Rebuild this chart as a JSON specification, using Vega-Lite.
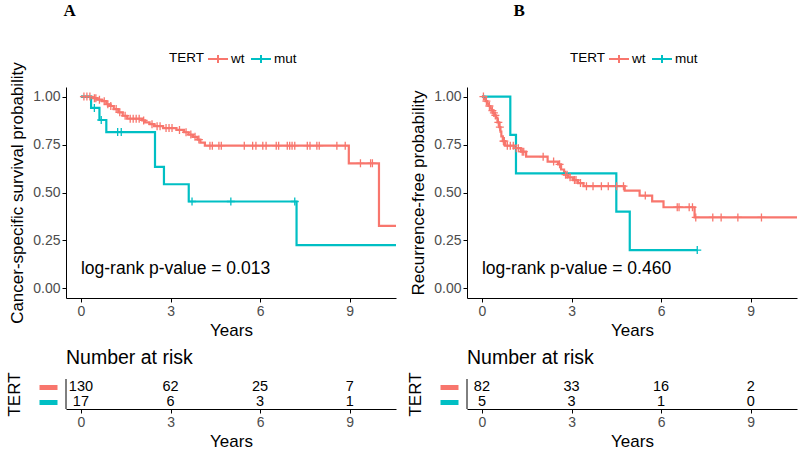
{
  "$schema": "https://vega.github.io/schema/vega-lite/v6.json",
  "background": "white",
  "padding": {"left": 5, "top": 2, "right": 3, "bottom": 0},
  "config": {
    "view": {"stroke": null},
    "font": "Liberation Sans",
    "axis": {"grid": false, "domainColor": "#000", "tickColor": "#000", "labelColor": "#4D4D4D", "labelFontSize": 14, "titleFontSize": 17, "titleFontWeight": "normal", "titleColor": "#000", "tickSize": 4, "labelPadding": 2, "domainWidth": 1, "titleFont": "Liberation Sans", "labelFont": "Liberation Sans"}
  },
  "datasets": {
    "kmA": [
      {"g": "wt", "t": 0, "s": 1.0}, {"g": "wt", "t": 0.35, "s": 0.992}, {"g": "wt", "t": 0.55, "s": 0.984}, {"g": "wt", "t": 0.7, "s": 0.976}, {"g": "wt", "t": 0.85, "s": 0.96}, {"g": "wt", "t": 0.95, "s": 0.951}, {"g": "wt", "t": 1.1, "s": 0.935}, {"g": "wt", "t": 1.25, "s": 0.918}, {"g": "wt", "t": 1.4, "s": 0.9}, {"g": "wt", "t": 1.55, "s": 0.885}, {"g": "wt", "t": 2.05, "s": 0.876}, {"g": "wt", "t": 2.15, "s": 0.866}, {"g": "wt", "t": 2.3, "s": 0.856}, {"g": "wt", "t": 2.45, "s": 0.846}, {"g": "wt", "t": 2.75, "s": 0.836}, {"g": "wt", "t": 3.2, "s": 0.826}, {"g": "wt", "t": 3.45, "s": 0.814}, {"g": "wt", "t": 3.6, "s": 0.802}, {"g": "wt", "t": 3.75, "s": 0.79}, {"g": "wt", "t": 3.9, "s": 0.776}, {"g": "wt", "t": 4.0, "s": 0.76}, {"g": "wt", "t": 4.15, "s": 0.744}, {"g": "wt", "t": 8.97, "s": 0.652}, {"g": "wt", "t": 9.98, "s": 0.326}, {"g": "wt", "t": 10.55, "s": 0.326},
      {"g": "mut", "t": 0, "s": 1.0}, {"g": "mut", "t": 0.34, "s": 0.941}, {"g": "mut", "t": 0.62, "s": 0.878}, {"g": "mut", "t": 0.85, "s": 0.815}, {"g": "mut", "t": 2.48, "s": 0.634}, {"g": "mut", "t": 2.78, "s": 0.543}, {"g": "mut", "t": 3.61, "s": 0.453}, {"g": "mut", "t": 7.22, "s": 0.226}, {"g": "mut", "t": 10.55, "s": 0.226}
    ],
    "censA": [
      {"g": "wt", "t": 0.1, "s": 1.0}, {"g": "wt", "t": 0.2, "s": 1.0}, {"g": "wt", "t": 0.3, "s": 1.0}, {"g": "wt", "t": 0.45, "s": 0.992}, {"g": "wt", "t": 0.5, "s": 0.992}, {"g": "wt", "t": 0.62, "s": 0.984}, {"g": "wt", "t": 0.78, "s": 0.976}, {"g": "wt", "t": 0.9, "s": 0.96}, {"g": "wt", "t": 1.0, "s": 0.951}, {"g": "wt", "t": 1.18, "s": 0.935}, {"g": "wt", "t": 1.3, "s": 0.918}, {"g": "wt", "t": 1.48, "s": 0.9}, {"g": "wt", "t": 1.65, "s": 0.885}, {"g": "wt", "t": 1.75, "s": 0.885}, {"g": "wt", "t": 1.85, "s": 0.885}, {"g": "wt", "t": 1.95, "s": 0.885}, {"g": "wt", "t": 2.1, "s": 0.876}, {"g": "wt", "t": 2.38, "s": 0.856}, {"g": "wt", "t": 2.55, "s": 0.846}, {"g": "wt", "t": 2.65, "s": 0.846}, {"g": "wt", "t": 2.85, "s": 0.836}, {"g": "wt", "t": 2.95, "s": 0.836}, {"g": "wt", "t": 3.05, "s": 0.836}, {"g": "wt", "t": 3.3, "s": 0.826}, {"g": "wt", "t": 3.52, "s": 0.814}, {"g": "wt", "t": 3.68, "s": 0.802}, {"g": "wt", "t": 3.82, "s": 0.79}, {"g": "wt", "t": 3.95, "s": 0.776},
      {"g": "wt", "t": 4.32, "s": 0.744}, {"g": "wt", "t": 4.4, "s": 0.744}, {"g": "wt", "t": 4.62, "s": 0.744}, {"g": "wt", "t": 4.7, "s": 0.744}, {"g": "wt", "t": 5.47, "s": 0.744}, {"g": "wt", "t": 5.75, "s": 0.744}, {"g": "wt", "t": 5.86, "s": 0.744}, {"g": "wt", "t": 6.09, "s": 0.744}, {"g": "wt", "t": 6.2, "s": 0.744}, {"g": "wt", "t": 6.54, "s": 0.744}, {"g": "wt", "t": 6.62, "s": 0.744}, {"g": "wt", "t": 6.91, "s": 0.744}, {"g": "wt", "t": 6.99, "s": 0.744}, {"g": "wt", "t": 7.07, "s": 0.744}, {"g": "wt", "t": 7.16, "s": 0.744}, {"g": "wt", "t": 7.58, "s": 0.744}, {"g": "wt", "t": 7.67, "s": 0.744}, {"g": "wt", "t": 7.9, "s": 0.744}, {"g": "wt", "t": 7.98, "s": 0.744}, {"g": "wt", "t": 8.57, "s": 0.744}, {"g": "wt", "t": 8.85, "s": 0.744}, {"g": "wt", "t": 9.36, "s": 0.652}, {"g": "wt", "t": 9.7, "s": 0.652}, {"g": "wt", "t": 9.76, "s": 0.652},
      {"g": "mut", "t": 0.45, "s": 0.941}, {"g": "mut", "t": 0.68, "s": 0.878}, {"g": "mut", "t": 1.23, "s": 0.815}, {"g": "mut", "t": 1.35, "s": 0.815}, {"g": "mut", "t": 3.72, "s": 0.453}, {"g": "mut", "t": 5.02, "s": 0.453}, {"g": "mut", "t": 7.16, "s": 0.453}
    ],
    "kmB": [
      {"g": "wt", "t": 0, "s": 1.0}, {"g": "wt", "t": 0.08, "s": 0.988}, {"g": "wt", "t": 0.12, "s": 0.976}, {"g": "wt", "t": 0.18, "s": 0.963}, {"g": "wt", "t": 0.22, "s": 0.951}, {"g": "wt", "t": 0.28, "s": 0.939}, {"g": "wt", "t": 0.32, "s": 0.927}, {"g": "wt", "t": 0.37, "s": 0.915}, {"g": "wt", "t": 0.42, "s": 0.902}, {"g": "wt", "t": 0.47, "s": 0.89}, {"g": "wt", "t": 0.52, "s": 0.866}, {"g": "wt", "t": 0.58, "s": 0.841}, {"g": "wt", "t": 0.62, "s": 0.817}, {"g": "wt", "t": 0.65, "s": 0.793}, {"g": "wt", "t": 0.7, "s": 0.768}, {"g": "wt", "t": 0.78, "s": 0.744}, {"g": "wt", "t": 1.12, "s": 0.731}, {"g": "wt", "t": 1.3, "s": 0.713}, {"g": "wt", "t": 1.48, "s": 0.687}, {"g": "wt", "t": 2.2, "s": 0.661}, {"g": "wt", "t": 2.55, "s": 0.647}, {"g": "wt", "t": 2.65, "s": 0.62}, {"g": "wt", "t": 2.75, "s": 0.593}, {"g": "wt", "t": 2.88, "s": 0.579}, {"g": "wt", "t": 3.05, "s": 0.565}, {"g": "wt", "t": 3.22, "s": 0.549}, {"g": "wt", "t": 3.4, "s": 0.533}, {"g": "wt", "t": 4.78, "s": 0.51}, {"g": "wt", "t": 5.28, "s": 0.484}, {"g": "wt", "t": 5.7, "s": 0.454}, {"g": "wt", "t": 6.08, "s": 0.423}, {"g": "wt", "t": 7.12, "s": 0.37}, {"g": "wt", "t": 10.55, "s": 0.37},
      {"g": "mut", "t": 0, "s": 1.0}, {"g": "mut", "t": 0.95, "s": 0.8}, {"g": "mut", "t": 1.14, "s": 0.6}, {"g": "mut", "t": 4.5, "s": 0.4}, {"g": "mut", "t": 4.95, "s": 0.2}, {"g": "mut", "t": 7.21, "s": 0.2}
    ],
    "censB": [
      {"g": "wt", "t": 0.05, "s": 1.0}, {"g": "wt", "t": 0.15, "s": 0.976}, {"g": "wt", "t": 0.25, "s": 0.951}, {"g": "wt", "t": 0.35, "s": 0.927}, {"g": "wt", "t": 0.4, "s": 0.915}, {"g": "wt", "t": 0.45, "s": 0.902}, {"g": "wt", "t": 0.55, "s": 0.866}, {"g": "wt", "t": 0.6, "s": 0.841}, {"g": "wt", "t": 0.72, "s": 0.768}, {"g": "wt", "t": 0.75, "s": 0.768}, {"g": "wt", "t": 0.85, "s": 0.744}, {"g": "wt", "t": 0.95, "s": 0.744}, {"g": "wt", "t": 1.05, "s": 0.744}, {"g": "wt", "t": 1.15, "s": 0.731}, {"g": "wt", "t": 1.22, "s": 0.731}, {"g": "wt", "t": 1.35, "s": 0.713}, {"g": "wt", "t": 1.4, "s": 0.713}, {"g": "wt", "t": 2.05, "s": 0.687}, {"g": "wt", "t": 2.4, "s": 0.661}, {"g": "wt", "t": 2.6, "s": 0.647}, {"g": "wt", "t": 2.8, "s": 0.593}, {"g": "wt", "t": 2.85, "s": 0.593}, {"g": "wt", "t": 2.95, "s": 0.579}, {"g": "wt", "t": 3.1, "s": 0.565}, {"g": "wt", "t": 3.15, "s": 0.565}, {"g": "wt", "t": 3.3, "s": 0.549},
      {"g": "wt", "t": 3.5, "s": 0.533}, {"g": "wt", "t": 3.72, "s": 0.533}, {"g": "wt", "t": 4.0, "s": 0.533}, {"g": "wt", "t": 4.23, "s": 0.533}, {"g": "wt", "t": 4.51, "s": 0.533}, {"g": "wt", "t": 4.74, "s": 0.533}, {"g": "wt", "t": 5.47, "s": 0.484}, {"g": "wt", "t": 6.54, "s": 0.423}, {"g": "wt", "t": 6.6, "s": 0.423}, {"g": "wt", "t": 6.94, "s": 0.423}, {"g": "wt", "t": 7.05, "s": 0.423}, {"g": "wt", "t": 7.16, "s": 0.37}, {"g": "wt", "t": 7.73, "s": 0.37}, {"g": "wt", "t": 8.01, "s": 0.37}, {"g": "wt", "t": 8.57, "s": 0.37}, {"g": "wt", "t": 9.36, "s": 0.37},
      {"g": "mut", "t": 7.21, "s": 0.2}
    ],
    "riskA": [
      {"g": "wt", "t": 0, "n": 130}, {"g": "wt", "t": 3, "n": 62}, {"g": "wt", "t": 6, "n": 25}, {"g": "wt", "t": 9, "n": 7},
      {"g": "mut", "t": 0, "n": 17}, {"g": "mut", "t": 3, "n": 6}, {"g": "mut", "t": 6, "n": 3}, {"g": "mut", "t": 9, "n": 1}
    ],
    "riskB": [
      {"g": "wt", "t": 0, "n": 82}, {"g": "wt", "t": 3, "n": 33}, {"g": "wt", "t": 6, "n": 16}, {"g": "wt", "t": 9, "n": 2},
      {"g": "mut", "t": 0, "n": 5}, {"g": "mut", "t": 3, "n": 3}, {"g": "mut", "t": 6, "n": 1}, {"g": "mut", "t": 9, "n": 0}
    ]
  },
  "resolve": {"legend": {"color": "independent"}},
  "spacing": 5,
  "hconcat": [
    {
      "title": {"text": "A", "anchor": "start", "font": "Liberation Serif", "fontSize": 17, "fontWeight": "bold", "color": "#000", "dx": 58, "offset": 28},
      "spacing": 10,
      "resolve": {"legend": {"color": "independent"}},
      "vconcat": [
        {
          "width": 330, "height": 211,
          "layer": [
            {
              "data": {"name": "kmA"},
              "mark": {"type": "line", "interpolate": "step-after", "strokeWidth": 2.2},
              "encoding": {
                "x": {"field": "t", "type": "quantitative", "scale": {"domain": [-0.5, 10.55], "nice": false, "zero": false}, "axis": {"values": [0, 3, 6, 9], "title": "Years"}},
                "y": {"field": "s", "type": "quantitative", "scale": {"domain": [-0.05, 1.05], "nice": false, "zero": false}, "axis": {"values": [0, 0.25, 0.5, 0.75, 1], "format": ".2f", "title": "Cancer-specific survival probability", "titlePadding": 6}},
                "color": {"field": "g", "type": "nominal", "scale": {"domain": ["wt", "mut"], "range": ["#F8766D", "#00BFC4"]},
                  "legend": {"title": "TERT", "orient": "none", "legendX": 103, "legendY": -39, "direction": "horizontal", "titleOrient": "left", "symbolType": "M-1,0L1,0M0,-0.4L0,0.4", "symbolSize": 400, "symbolStrokeWidth": 2, "labelFontSize": 13.5, "titleFontSize": 13.5, "titleFontWeight": "normal", "titleColor": "#000", "labelColor": "#000", "columnPadding": 2, "labelOffset": 2, "titlePadding": 2, "titleFont": "Liberation Sans", "labelFont": "Liberation Sans"}}
              }
            },
            {
              "data": {"name": "censA"},
              "mark": {"type": "point", "shape": "M-1,0L1,0M0,-1L0,1", "size": 64, "filled": false, "strokeWidth": 1.3, "opacity": 1},
              "encoding": {
                "x": {"field": "t", "type": "quantitative"},
                "y": {"field": "s", "type": "quantitative"},
                "color": {"field": "g", "type": "nominal"}
              }
            },
            {
              "data": {"values": [{"t": 0, "s": 0.1, "label": "log-rank p-value = 0.013"}]},
              "mark": {"type": "text", "align": "left", "baseline": "middle", "fontSize": 17.5, "color": "#000"},
              "encoding": {
                "x": {"field": "t", "type": "quantitative"},
                "y": {"field": "s", "type": "quantitative"},
                "text": {"field": "label"}
              }
            }
          ]
        },
        {
          "width": 330, "height": 30,
          "title": {"text": "Number at risk", "anchor": "start", "fontSize": 19.5, "fontWeight": "normal", "font": "Liberation Sans", "color": "#000", "frame": "group", "offset": 3},
          "layer": [
            {
              "data": {"name": "riskA"},
              "mark": {"type": "text", "fontSize": 14.5, "color": "#000"},
              "encoding": {
                "x": {"field": "t", "type": "quantitative", "scale": {"domain": [-0.5, 10.55], "nice": false, "zero": false}, "axis": {"values": [0, 3, 6, 9], "title": "Years"}},
                "y": {"field": "g", "type": "nominal", "sort": ["wt", "mut"], "scale": {"type": "point", "domain": ["wt", "mut"], "padding": 0.5}, "axis": {"title": "TERT", "domain": false, "labels": false, "ticks": true, "tickSize": 18, "tickWidth": 5, "offset": 9, "tickColor": {"condition": {"test": "datum.value == 'wt'", "value": "#F8766D"}, "value": "#00BFC4"}, "titlePadding": 13}},
                "text": {"field": "n", "type": "quantitative"}
              }
            },
            {
              "data": {"values": [{}]},
              "mark": {"type": "rule", "color": "#000", "strokeWidth": 1},
              "encoding": {"x": {"datum": -0.5}}
            }
          ]
        }
      ]
    },
    {
      "title": {"text": "B", "anchor": "start", "font": "Liberation Serif", "fontSize": 17, "fontWeight": "bold", "color": "#000", "dx": 107, "offset": 28},
      "spacing": 10,
      "resolve": {"legend": {"color": "independent"}},
      "vconcat": [
        {
          "width": 330, "height": 211,
          "layer": [
            {
              "data": {"name": "kmB"},
              "mark": {"type": "line", "interpolate": "step-after", "strokeWidth": 2.2},
              "encoding": {
                "x": {"field": "t", "type": "quantitative", "scale": {"domain": [-0.5, 10.55], "nice": false, "zero": false}, "axis": {"values": [0, 3, 6, 9], "title": "Years"}},
                "y": {"field": "s", "type": "quantitative", "scale": {"domain": [-0.05, 1.05], "nice": false, "zero": false}, "axis": {"values": [0, 0.25, 0.5, 0.75, 1], "format": ".2f", "title": "Recurrence-free probability", "titlePadding": 6}},
                "color": {"field": "g", "type": "nominal", "scale": {"domain": ["wt", "mut"], "range": ["#F8766D", "#00BFC4"]},
                  "legend": {"title": "TERT", "orient": "none", "legendX": 103, "legendY": -39, "direction": "horizontal", "titleOrient": "left", "symbolType": "M-1,0L1,0M0,-0.4L0,0.4", "symbolSize": 400, "symbolStrokeWidth": 2, "labelFontSize": 13.5, "titleFontSize": 13.5, "titleFontWeight": "normal", "titleColor": "#000", "labelColor": "#000", "columnPadding": 2, "labelOffset": 2, "titlePadding": 2, "titleFont": "Liberation Sans", "labelFont": "Liberation Sans"}}
              }
            },
            {
              "data": {"name": "censB"},
              "mark": {"type": "point", "shape": "M-1,0L1,0M0,-1L0,1", "size": 64, "filled": false, "strokeWidth": 1.3, "opacity": 1},
              "encoding": {
                "x": {"field": "t", "type": "quantitative"},
                "y": {"field": "s", "type": "quantitative"},
                "color": {"field": "g", "type": "nominal"}
              }
            },
            {
              "data": {"values": [{"t": 0, "s": 0.1, "label": "log-rank p-value = 0.460"}]},
              "mark": {"type": "text", "align": "left", "baseline": "middle", "fontSize": 17.5, "color": "#000"},
              "encoding": {
                "x": {"field": "t", "type": "quantitative"},
                "y": {"field": "s", "type": "quantitative"},
                "text": {"field": "label"}
              }
            }
          ]
        },
        {
          "width": 330, "height": 30,
          "title": {"text": "Number at risk", "anchor": "start", "fontSize": 19.5, "fontWeight": "normal", "font": "Liberation Sans", "color": "#000", "frame": "group", "offset": 3},
          "layer": [
            {
              "data": {"name": "riskB"},
              "mark": {"type": "text", "fontSize": 14.5, "color": "#000"},
              "encoding": {
                "x": {"field": "t", "type": "quantitative", "scale": {"domain": [-0.5, 10.55], "nice": false, "zero": false}, "axis": {"values": [0, 3, 6, 9], "title": "Years"}},
                "y": {"field": "g", "type": "nominal", "sort": ["wt", "mut"], "scale": {"type": "point", "domain": ["wt", "mut"], "padding": 0.5}, "axis": {"title": "TERT", "domain": false, "labels": false, "ticks": true, "tickSize": 18, "tickWidth": 5, "offset": 9, "tickColor": {"condition": {"test": "datum.value == 'wt'", "value": "#F8766D"}, "value": "#00BFC4"}, "titlePadding": 13}},
                "text": {"field": "n", "type": "quantitative"}
              }
            },
            {
              "data": {"values": [{}]},
              "mark": {"type": "rule", "color": "#000", "strokeWidth": 1},
              "encoding": {"x": {"datum": -0.5}}
            }
          ]
        }
      ]
    }
  ]
}
